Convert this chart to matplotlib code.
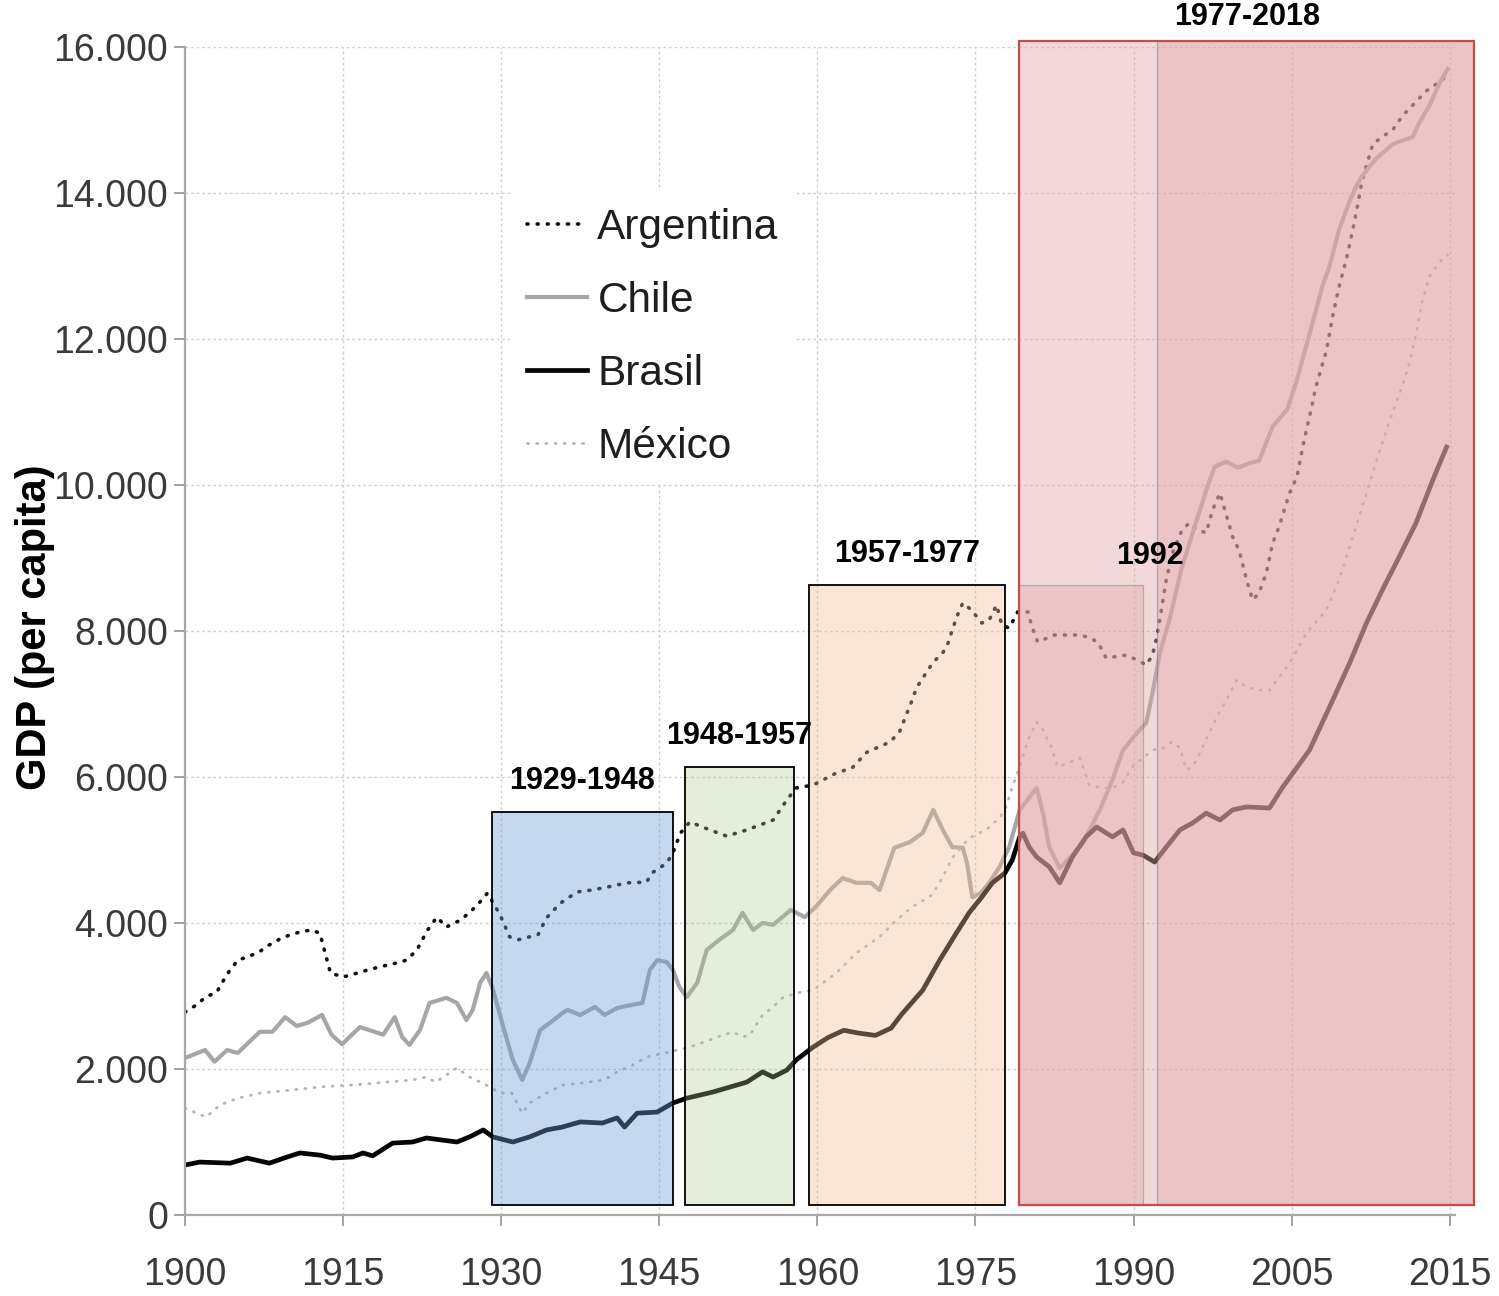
import matplotlib
matplotlib.use("Agg")
import matplotlib.pyplot as plt
from matplotlib.patches import Rectangle

plt.rcParams["font.family"] = ["Liberation Sans", "DejaVu Sans"]

# --- data (x = position on the chart's year scale) ---
arg_years = [1900, 1901, 1902, 1903, 1904, 1905, 1906, 1907, 1908, 1909, 1910, 1911, 1912, 1912.8,
             1913.8, 1915, 1916, 1917.3, 1918.5, 1920, 1921, 1922, 1923, 1923.9, 1924.8, 1926, 1927,
             1928, 1928.7, 1929.9, 1930.8, 1931.6, 1933.5, 1934.3, 1935.6, 1937.2, 1938.5, 1940,
             1941.9, 1943.8, 1944.3, 1945.7, 1946.3, 1947, 1947.9, 1949.8, 1951.4, 1953.3, 1955.8,
             1957.1, 1958, 1959.6, 1961.8, 1963.3, 1964.7, 1966.9, 1967.8, 1968.5, 1969, 1969.4,
             1970, 1971, 1971.9, 1972.4, 1972.8, 1973.3, 1973.8, 1974.6, 1975.6, 1976.3, 1977,
             1977.5, 1978.2, 1979, 1980, 1980.3, 1980.9, 1982.5, 1984.9, 1985.6, 1986.6, 1987.4,
             1989.3, 1990.3, 1991.2, 1991.8, 1992.2, 1992.6, 1993.1, 1993.7, 1994.6, 1995.3, 1996,
             1996.9, 1997.5, 1998.2, 1999.4, 2000, 2000.8, 2001.3, 2001.9, 2002.6, 2003.2, 2003.8,
             2004.8, 2005.5, 2006, 2006.4, 2006.9, 2007.3, 2008.3, 2008.9, 2009.5, 2010.2, 2010.8,
             2011.2, 2011.7, 2012.1, 2012.7, 2013.6, 2014.6, 2015.5, 2016.5, 2017.8, 2019.3, 2019.8]
arg_gdp = [2780, 2870, 2990, 3050, 3300, 3490, 3540, 3600, 3700, 3780, 3840, 3880, 3905, 3860,
           3315, 3260, 3300, 3355, 3400, 3450, 3490, 3630, 3900, 4080, 3945, 4030, 4140,
           4290, 4410, 4110, 3810, 3770, 3840, 4070, 4270, 4425, 4450, 4490,
           4550, 4560, 4685, 4820, 4960, 5230, 5385, 5275, 5190, 5275, 5410,
           5685, 5850, 5890, 6055, 6125, 6340, 6480, 6620, 6875, 7055, 7220,
           7355, 7575, 7700, 7835, 8015, 8220, 8385, 8290, 8110, 8150, 8355,
           8085, 8040, 8260, 8260, 8085, 7850, 7945, 7945, 7920, 7850, 7630,
           7670, 7605, 7535, 7670, 7920, 8250, 8700, 9070, 9385, 9480, 9385,
           9345, 9660, 9890, 9290, 9110, 8660, 8425, 8520, 8795, 9205, 9425,
           9890, 10110, 10480, 10755, 11070, 11345, 11840, 12320, 12715, 13100, 13495,
           13785, 14180, 14370, 14670, 14770, 14865, 15055, 15205, 15400, 15550, 15640]

chl_years = [1900, 1901.9, 1902.8, 1904, 1905, 1907.1, 1908.3, 1909.5, 1910.6, 1911.6, 1913, 1913.9,
             1914.9, 1916.6, 1918.8, 1919.9, 1920.6, 1921.3, 1922.3, 1923.2, 1924.8, 1925.8, 1926.7,
             1927.3, 1928, 1928.6, 1929.2, 1930.2, 1931.1, 1932, 1932.7, 1933.7, 1934.6, 1935.8,
             1936.3, 1937.5, 1938.9, 1939.8, 1941, 1941.9, 1943.4, 1944.1, 1944.8, 1945.7, 1946.3,
             1946.9, 1947.6, 1948.6, 1949.5, 1950.7, 1952, 1952.9, 1953.9, 1954.8, 1955.8, 1957.5,
             1958.8, 1959.9, 1961.2, 1962.4, 1963.7, 1965.1, 1965.9, 1967.3, 1968.8, 1970, 1971,
             1971.9, 1972.8, 1973.8, 1974.2, 1974.7, 1975.5, 1976.3, 1977.3, 1978.2, 1979.2, 1980.8,
             1981.4, 1982, 1983, 1984, 1985.2, 1986.8, 1988, 1989, 1990.3, 1991.2, 1991.8, 1992.5,
             1993.4, 1994.6, 1996, 1996.9, 1997.7, 1998.8, 1999.9, 2001, 2001.9, 2003.2, 2004.6,
             2005.5, 2006.7, 2007.9, 2008.6, 2009.5, 2010.5, 2011.1, 2011.7, 2013, 2014.6, 2016.5,
             2017.1, 2018.1, 2019, 2019.8]
chl_gdp = [2150, 2260, 2100, 2260, 2220, 2510, 2510, 2710, 2590, 2630, 2740, 2470,
           2340, 2575, 2470, 2710, 2440, 2330, 2535, 2905, 2975, 2905, 2670,
           2810, 3180, 3315, 3100, 2575, 2125, 1850, 2080, 2535, 2630, 2765,
           2810, 2740, 2850, 2740, 2835, 2865, 2905, 3355, 3490, 3465, 3355,
           3125, 2985, 3180, 3630, 3770, 3905, 4140, 3905, 4000, 3975, 4180,
           4080, 4230, 4450, 4615, 4550, 4550, 4450, 5030, 5110, 5235, 5550,
           5275, 5040, 5030, 4820, 4355, 4410, 4550, 4770, 5040, 5550, 5850,
           5510, 5040, 4750, 4900, 5100, 5550, 5960, 6370, 6600, 6740, 7150, 7700,
           8150, 8880, 9520, 9930, 10250, 10320, 10235, 10300, 10330, 10800, 11040,
           11440, 12070, 12715, 13000, 13495, 13890, 14085, 14235, 14470, 14670, 14770,
           14960, 15205, 15495, 15700]

bra_years = [1900, 1901.4, 1904.3, 1905.9, 1908, 1909.7, 1910.9, 1912.8, 1914, 1915.9, 1916.9,
             1917.8, 1919.7, 1921.6, 1922.9, 1925.8, 1927, 1928.3, 1929.2, 1931.1, 1932.7, 1934.3,
             1935.8, 1937.5, 1939.6, 1941, 1941.7, 1942.9, 1944.8, 1946.3, 1947.6, 1950.1, 1953.3,
             1954.8, 1955.8, 1957.1, 1958, 1959.6, 1961, 1962.5, 1964, 1965.5, 1967, 1968, 1970,
             1971.6, 1973.2, 1974.4, 1975.6, 1976.6, 1977.8, 1978.5, 1979.2, 1979.5, 1980.1, 1980.8,
             1982, 1983, 1984.2, 1985.5, 1986.5, 1988, 1989, 1990, 1990.9, 1992, 1993.1, 1994.4,
             1995.6, 1996.9, 1998.2, 1999.4, 2000.7, 2002.9, 2004.1, 2006.7, 2008.6, 2010.5, 2012.1,
             2013.6, 2015.2, 2016.8, 2018.4, 2019.7]
bra_gdp = [685, 725, 710, 780, 710, 795, 850, 820, 780, 795, 850,
           810, 985, 1000, 1055, 1000, 1070, 1165, 1070, 1000, 1070, 1165,
           1205, 1275, 1260, 1330, 1205, 1395, 1410, 1535, 1600, 1685, 1820,
           1960, 1890, 1985, 2125, 2300, 2430, 2530, 2490, 2460, 2560, 2750, 3080,
           3490, 3865, 4140, 4355, 4550, 4685, 4865, 5180, 5230, 5040, 4905,
           4770, 4550, 4905, 5180, 5315, 5180, 5275, 4960, 4930, 4835, 5040, 5275,
           5370, 5505, 5410, 5550, 5590, 5575, 5850, 6370, 6960, 7560, 8110,
           8560, 9015, 9480, 10070, 10520]

mex_years = [1900, 1902, 1903.3, 1905, 1907.1, 1910, 1912.8, 1915.9, 1919.1, 1921.6, 1922.9,
             1923.8, 1925.8, 1927, 1928.6, 1929.9, 1931, 1932, 1932.7, 1934.3, 1935.8, 1937.7,
             1939.8, 1941, 1942.5, 1943.8, 1946, 1947.9, 1949.8, 1951, 1952, 1952.9, 1953.6, 1954.8,
             1955.8, 1956.7, 1958, 1959.6, 1961.8, 1963.7, 1965.9, 1967.5, 1969, 1970.9, 1971.9,
             1972.8, 1974.4, 1976, 1977.3, 1977.9, 1978.5, 1979.2, 1980, 1980.8, 1981.4, 1982.2,
             1982.8, 1983.8, 1984.9, 1985.8, 1987, 1988, 1989, 1989.9, 1990.9, 1991.8, 1992.9,
             1993.6, 1994.4, 1995, 1995.6, 1996.3, 1997, 1997.9, 1998.8, 1999.8, 2000.7, 2001.9,
             2002.9, 2004.8, 2006.4, 2008.3, 2009.5, 2011.1, 2012.7, 2014, 2014.9, 2015.5, 2016.2,
             2016.8, 2017.4, 2018.1, 2019.3, 2019.8]
mex_gdp = [1465, 1340, 1505, 1600, 1670, 1710, 1755, 1780, 1820, 1850, 1890,
           1820, 2015, 1890, 1780, 1670, 1670, 1395, 1535, 1670, 1780, 1810,
           1850, 1960, 2055, 2165, 2235, 2300, 2400, 2465, 2505, 2440, 2465, 2740,
           2850, 2975, 3040, 3080, 3315, 3590, 3810, 4040, 4220, 4385, 4630,
           4890, 5165, 5275, 5440, 5590, 5865, 6140, 6510, 6755, 6645, 6410,
           6140, 6190, 6260, 5890, 5850, 5850, 5930, 6140, 6260, 6370, 6400,
           6480, 6400, 6100, 6140, 6330, 6550, 6820, 7055, 7330, 7230, 7190,
           7190, 7560, 7970, 8290, 8700, 9425, 10165, 10755, 11125, 11345, 11685,
           12070, 12520, 12865, 13100, 13150]

x_ticks = [1900, 1915, 1930, 1945, 1960, 1975, 1990, 2005, 2020]
x_labels = ["1900", "1915", "1930", "1945", "1960", "1975", "1990", "2005", "2015"]
y_ticks = [0, 2000, 4000, 6000, 8000, 10000, 12000, 14000, 16000]
y_labels = ["0", "2.000", "4.000", "6.000", "8.000", "10.000", "12.000", "14.000", "16.000"]

# periodos marcados: (inicio, fin, tope)
period_start = [1929.1, 1947.4, 1959.2]
period_end = [1946.3, 1957.75, 1977.85]
period_top = [5520, 6137, 8630]
period_labels = ["1929-1948", "1948-1957", "1957-1977"]
period_colors = [(110 / 255, 155 / 255, 215 / 255), (172 / 255, 198 / 255, 138 / 255),
                 (243 / 255, 185 / 255, 144 / 255)]
period_alpha = [0.39, 0.3, 0.37]
red_fill = (226 / 255, 165 / 255, 168 / 255)

fig = plt.figure(figsize=(14.99, 12.96), dpi=100)
ax = fig.add_axes([185 / 1499, 81 / 1296, 1270 / 1499, 1168 / 1296])

ax.plot(arg_years, arg_gdp, color="#111111", lw=2.6, linestyle=(0, (0.3, 2.5)),
        dash_capstyle="round", label="Argentina", zorder=2)
ax.plot(chl_years, chl_gdp, color="#a6a6a6", lw=3.0, label="Chile", zorder=2)
ax.plot(bra_years, bra_gdp, color="#050505", lw=3.4, label="Brasil", zorder=2)
ax.plot(mex_years, mex_gdp, color="#b4b4b4", lw=2.0, linestyle=(0, (0.4, 2.9)),
        dash_capstyle="round", label="México", zorder=2)

ax.set_xlim(1900, 2020.5)
ax.set_ylim(0, 16000)
ax.set_xticks(x_ticks)
ax.set_xticklabels(x_labels)
ax.set_yticks(y_ticks)
ax.set_yticklabels(y_labels)
ax.tick_params(axis="both", labelsize=27, labelcolor="#3a3a3a", color="#9a9a9a",
               length=8, width=1.3)
ax.tick_params(axis="x", pad=22)
ax.tick_params(axis="y", pad=4)
for side in ["top", "right"]:
    ax.spines[side].set_visible(False)
for side in ["left", "bottom"]:
    ax.spines[side].set_color("#a8a8a8")
    ax.spines[side].set_linewidth(1.6)
ax.grid(True, color="#cfcfcf", linestyle=(0, (2, 2)), lw=1.0, zorder=0)
ax.set_axisbelow(True)

# cuadros de periodos
for x0, x1, top, lab, col, a in zip(period_start, period_end, period_top, period_labels,
                                    period_colors, period_alpha):
    ax.add_patch(Rectangle((x0, 137), x1 - x0, top - 137, facecolor=col, alpha=a,
                           edgecolor="none", zorder=3, clip_on=False))
    ax.add_patch(Rectangle((x0, 137), x1 - x0, top - 137, facecolor="none",
                           edgecolor="black", lw=1.3, zorder=4, clip_on=False))
    ax.annotate(lab, xy=((x0 + x1) / 2, top), xytext=(0, 22), textcoords="offset points",
                ha="center", va="center", fontsize=22, fontweight="bold", zorder=6,
                annotation_clip=False)

# periodo 1977-2018 y 1992
ax.add_patch(Rectangle((1979.15, 137), 2022.33 - 1979.15, 16085 - 137, facecolor=red_fill,
                       alpha=0.43, edgecolor="none", zorder=3, clip_on=False))
ax.add_patch(Rectangle((1992.18, 137), 2022.33 - 1992.18, 16085 - 137, facecolor=red_fill,
                       alpha=0.38, edgecolor="#555555", lw=0.9, zorder=3, clip_on=False))
ax.add_patch(Rectangle((1979.15, 137), 1990.85 - 1979.15, 8630 - 137, facecolor=red_fill,
                       alpha=0.38, edgecolor="#666666", lw=0.9, zorder=3, clip_on=False))
ax.add_patch(Rectangle((1979.15, 137), 2022.33 - 1979.15, 16085 - 137, facecolor="none",
                       edgecolor="#C0504D", lw=1.6, zorder=4, clip_on=False))
ax.annotate("1977-2018", xy=((1979.15 + 2022.33) / 2, 16085), xytext=(0, 17),
            textcoords="offset points", ha="center", va="center", fontsize=22,
            fontweight="bold", annotation_clip=False)
ax.annotate("1992", xy=(1991.6, 8630), xytext=(0, 21), textcoords="offset points",
            ha="center", va="center", fontsize=22, fontweight="bold", annotation_clip=False)

leg = ax.legend(loc="upper left", bbox_to_anchor=(0.239, 0.8947), fontsize=30.5, frameon=True,
                handlelength=1.42, handletextpad=0.25, labelspacing=0.78, borderpad=0.4)
leg.get_frame().set_facecolor("white")
leg.get_frame().set_edgecolor("none")
leg.get_frame().set_alpha(1.0)
for t in leg.get_texts():
    t.set_color("#1e1e1e")

fig.text(35 / 1499, 1 - 627 / 1296, "GDP (per capita)", rotation=90, ha="center",
         va="center", fontsize=30, fontweight="bold")

fig.savefig("out.png", dpi=100)
